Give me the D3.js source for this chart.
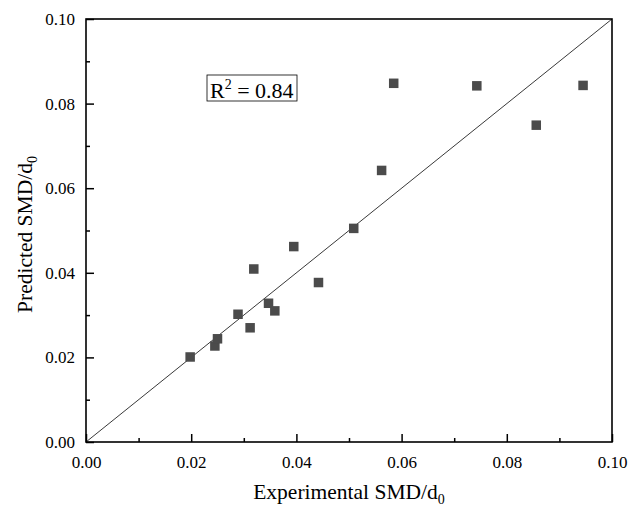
<!DOCTYPE html>
<html>
<head>
<meta charset="utf-8">
<script src="https://cdn.jsdelivr.net/npm/d3@7"></script>
<style>
  html, body { margin: 0; padding: 0; background: #fff; }
  svg, svg text { font-family: "Liberation Serif", "Times New Roman", serif; }
</style>
</head>
<body>
<div id="chart"></div>
<script>
// experimental vs predicted SMD/d0
const expVals = [0.0198, 0.0245, 0.0250, 0.0289, 0.0312, 0.0319, 0.0347, 0.0359, 0.0395, 0.0442, 0.0509, 0.0562, 0.0585, 0.0743, 0.0856, 0.0945];
const predVals = [0.0201, 0.0227, 0.0244, 0.0302, 0.0270, 0.0409, 0.0328, 0.0310, 0.0462, 0.0377, 0.0505, 0.0642, 0.0848, 0.0842, 0.0749, 0.0843];
const majorTicks = [0, 0.02, 0.04, 0.06, 0.08, 0.10];
const minorTicks = [0.01, 0.03, 0.05, 0.07, 0.09];
const r2Label = "0.84";

const W = 630, H = 506;
const margin = { top: 19, right: 18, bottom: 64, left: 86 };
const w = W - margin.left - margin.right;
const h = H - margin.top - margin.bottom;

const svg = d3.select("#chart").append("svg")
  .attr("width", W)
  .attr("height", H);

const g = svg.append("g")
  .attr("transform", `translate(${margin.left},${margin.top})`);

const x = d3.scaleLinear().domain([0, 0.1]).range([0, w]);
const y = d3.scaleLinear().domain([0, 0.1]).range([h, 0]);

// 1:1 line
g.append("line")
  .attr("x1", x(0)).attr("y1", y(0))
  .attr("x2", x(0.1)).attr("y2", y(0.1))
  .attr("stroke", "#222")
  .attr("stroke-width", 0.9);

// points
const sq = 9.5;
g.selectAll(".pt")
  .data(expVals.map((v, i) => ({ x: v, y: predVals[i] })))
  .enter()
  .append("rect")
  .attr("class", "pt")
  .attr("x", d => x(d.x) - sq / 2)
  .attr("y", d => y(d.y) - sq / 2)
  .attr("width", sq)
  .attr("height", sq)
  .attr("fill", "#4b4b4b");

// ticks inward
const fmt = d3.format(".2f");

g.append("g")
  .attr("class", "axis")
  .attr("transform", `translate(0,${h})`)
  .call(d3.axisBottom(x).tickValues(majorTicks).tickSize(-8).tickPadding(14).tickFormat(fmt));
g.append("g")
  .attr("transform", `translate(0,${h})`)
  .call(d3.axisBottom(x).tickValues(minorTicks).tickSize(-4).tickFormat(""));

g.append("g")
  .attr("class", "axis")
  .call(d3.axisLeft(y).tickValues(majorTicks).tickSize(-8).tickPadding(11).tickFormat(fmt));
g.append("g")
  .call(d3.axisLeft(y).tickValues(minorTicks).tickSize(-4).tickFormat(""));

g.selectAll(".tick line").attr("stroke", "#000").attr("stroke-width", 1.5);
g.selectAll(".domain").remove();
g.selectAll(".axis")
  .attr("font-family", null)
  .attr("font-size", null);
g.selectAll(".tick text")
  .style("font-family", "'Liberation Serif', serif")
  .style("font-size", "17px")
  .attr("fill", "#000");

// frame
g.append("rect")
  .attr("x", 0).attr("y", 0)
  .attr("width", w).attr("height", h)
  .attr("fill", "none")
  .attr("stroke", "#000")
  .attr("stroke-width", 1.6);

// R^2 box
const box = g.append("g").attr("transform", `translate(${207 - margin.left},${75 - margin.top})`);
box.append("rect")
  .attr("width", 90).attr("height", 26)
  .attr("fill", "#fff")
  .attr("stroke", "#000")
  .attr("stroke-width", 0.8);
const rt = box.append("text")
  .attr("x", 3).attr("y", 23)
  .style("font-size", "22px")
  .attr("fill", "#000");
rt.append("tspan").text("R");
rt.append("tspan").attr("dy", -9).style("font-size", "14px").text("2");
rt.append("tspan").attr("dy", 9).text(" = " + r2Label);

// axis titles
const xt = svg.append("text")
  .attr("x", margin.left + w / 2)
  .attr("y", 499)
  .attr("text-anchor", "middle")
  .style("font-size", "21.5px")
  .attr("fill", "#000");
xt.append("tspan").text("Experimental SMD/d");
xt.append("tspan").attr("dy", 5).style("font-size", "14px").text("0");

const yt = svg.append("text")
  .attr("transform", `translate(32,${margin.top + h / 2 + 4}) rotate(-90)`)
  .attr("text-anchor", "middle")
  .style("font-size", "21.5px")
  .attr("fill", "#000");
yt.append("tspan").text("Predicted SMD/d");
yt.append("tspan").attr("dy", 5).style("font-size", "14px").text("0");
</script>
</body>
</html>
